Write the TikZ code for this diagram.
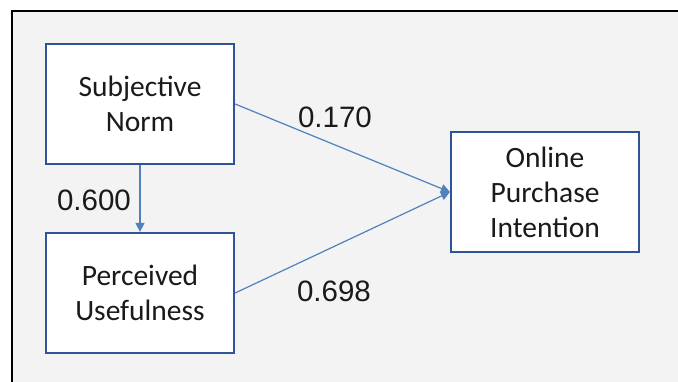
\documentclass[tikz,border=0pt]{standalone}
\usepackage{fontspec}
\setmainfont{Carlito}
\newfontfamily\labfont{Liberation Sans}
\usetikzlibrary{arrows.meta}
\definecolor{bgray}{HTML}{F3F3F3}
\definecolor{boxblue}{HTML}{2F5597}
\definecolor{arrblue}{HTML}{4F81BD}
\definecolor{txt}{HTML}{1A1A1A}
\tikzset{
  box/.style={draw=boxblue, line width=2.2pt, fill=white, minimum width=188pt, minimum height=120pt,
    inner sep=0pt, align=center, text=txt, font=\fontsize{29.5pt}{35pt}\selectfont},
  conn/.style={draw=arrblue, line width=1.2pt, -{Triangle[length=9pt,width=9pt]}},
  coef/.style={text=txt, font=\labfont\fontsize{29.5pt}{34pt}\selectfont, inner sep=0pt}
}
\begin{document}
\begin{tikzpicture}[x=1pt,y=-1pt]
\useasboundingbox (0,0) rectangle (678,382);
\fill[white] (0,0) rectangle (678,382);
\fill[bgray] (12,11) rectangle (690,395);
\draw[black, line width=2.5pt] (690,11) -- (12,11) -- (12,395);
\node[box] (sn) at (140,104) {Subjective\\Norm};
\node[box] (pu) at (140,293) {Perceived\\Usefulness};
\node[box] (opi) at (545,192) {Online\\Purchase\\Intention};
\draw[conn] (sn.east) -- (opi.west);
\draw[conn] (pu.east) -- (opi.west);
\draw[conn] (sn.south) -- (pu.north);
\node[coef] (c1) at (335,117) {0.170};
\node[coef] (c2) at (334,291) {0.698};
\node[coef] (c3) at (94,200) {0.600};
\end{tikzpicture}
\end{document}
